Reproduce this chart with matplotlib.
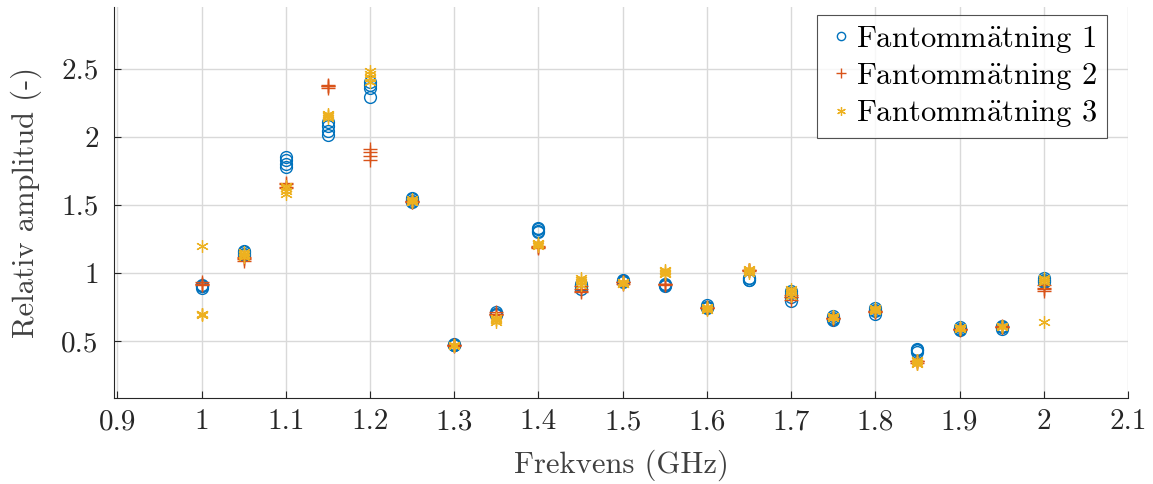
import matplotlib
matplotlib.use("Agg")
import matplotlib.pyplot as plt

plt.rcParams['font.family'] = ['cmr10', 'DejaVu Serif']
plt.rcParams['mathtext.fontset'] = 'cm'
plt.rcParams['axes.formatter.use_mathtext'] = True

freqs = [1.0, 1.05, 1.1, 1.15, 1.2, 1.25, 1.3, 1.35, 1.4, 1.45, 1.5,
         1.55, 1.6, 1.65, 1.7, 1.75, 1.8, 1.85, 1.9, 1.95, 2.0]

# repeated measurements per frequency
meas1 = [[0.89, 0.90, 0.91, 0.90], [1.13, 1.15, 1.16, 1.14], [1.78, 1.80, 1.83, 1.85],
         [2.01, 2.04, 2.08, 2.11], [2.29, 2.36, 2.38, 2.40], [1.52, 1.53, 1.55, 1.54],
         [0.47, 0.47, 0.48, 0.47], [0.69, 0.70, 0.71, 0.70], [1.30, 1.32, 1.33, 1.31],
         [0.88, 0.90, 0.92, 0.91], [0.93, 0.94, 0.95, 0.94], [0.90, 0.91, 0.92, 0.91],
         [0.74, 0.75, 0.76, 0.75], [0.95, 0.96, 0.96, 0.95], [0.79, 0.82, 0.85, 0.87],
         [0.65, 0.66, 0.67, 0.68], [0.70, 0.72, 0.73, 0.74], [0.42, 0.43, 0.44, 0.43],
         [0.58, 0.59, 0.60, 0.59], [0.59, 0.60, 0.61, 0.60], [0.93, 0.95, 0.96, 0.94]]
meas2 = [[0.92, 0.93, 0.91, 0.92], [1.10, 1.12, 1.11, 1.09], [1.63, 1.65, 1.66, 1.62],
         [2.36, 2.37, 2.38, 2.37], [1.83, 1.86, 1.89, 1.91], [1.52, 1.53, 1.53, 1.52],
         [0.47, 0.47, 0.46, 0.47], [0.70, 0.71, 0.69, 0.70], [1.18, 1.19, 1.20, 1.19],
         [0.86, 0.88, 0.90, 0.87], [0.93, 0.93, 0.92, 0.93], [0.92, 0.92, 0.91, 0.92],
         [0.74, 0.74, 0.75, 0.74], [1.02, 1.02, 1.01, 1.02], [0.80, 0.82, 0.84, 0.82],
         [0.67, 0.67, 0.66, 0.67], [0.71, 0.72, 0.71, 0.72], [0.35, 0.35, 0.34, 0.35],
         [0.59, 0.59, 0.58, 0.59], [0.60, 0.60, 0.60, 0.61], [0.87, 0.89, 0.91, 0.88]]
meas3 = [[0.70, 0.69, 0.70, 1.20], [1.12, 1.14, 1.13, 1.15], [1.58, 1.60, 1.62, 1.64],
         [2.14, 2.16, 2.17, 2.15], [2.40, 2.43, 2.46, 2.48], [1.52, 1.53, 1.54, 1.53],
         [0.46, 0.47, 0.47, 0.47], [0.64, 0.66, 0.67, 0.65], [1.20, 1.21, 1.22, 1.21],
         [0.93, 0.95, 0.96, 0.91], [0.92, 0.93, 0.93, 0.92], [0.99, 1.00, 1.01, 1.02],
         [0.73, 0.74, 0.75, 0.74], [1.00, 1.02, 1.03, 1.01], [0.83, 0.85, 0.87, 0.88],
         [0.67, 0.68, 0.67, 0.68], [0.72, 0.73, 0.74, 0.73], [0.33, 0.35, 0.36, 0.34],
         [0.59, 0.59, 0.60, 0.59], [0.61, 0.61, 0.60, 0.61], [0.93, 0.95, 0.96, 0.64]]

labels = [r'Fantomm$\ddot{\mathrm{a}}$tning 1',
          r'Fantomm$\ddot{\mathrm{a}}$tning 2',
          r'Fantomm$\ddot{\mathrm{a}}$tning 3']
colors = ['#0072BD', '#D95319', '#EDB120']


def flatten(meas):
	xs = []
	ys = []
	for f, vals in zip(freqs, meas):
		for v in vals:
			xs.append(f)
			ys.append(v)
	return xs, ys


fig = plt.figure(figsize=(11.53, 4.84), dpi=100)
ax = fig.add_axes([114 / 1153, 1 - 398 / 484, (1128 - 114) / 1153, (398 - 7) / 484])

xs, ys = flatten(meas1)
ax.plot(xs, ys, linestyle='none', marker='o', markersize=8.5, markerfacecolor='none',
		markeredgecolor=colors[0], markeredgewidth=1.0, label=labels[0])
xs, ys = flatten(meas2)
ax.plot(xs, ys, linestyle='none', marker='+', markersize=10, color=colors[1],
		markeredgewidth=1.0, label=labels[1])
xs, ys = flatten(meas3)
ax.plot(xs, ys, linestyle='none', marker=(6, 2, 0), markersize=9, color=colors[2],
		markeredgewidth=0.9, label=labels[2])

ax.set_xlim(0.896, 2.1)
ax.set_ylim(0.08, 2.954)
ax.set_xticks([0.9, 1.0, 1.1, 1.2, 1.3, 1.4, 1.5, 1.6, 1.7, 1.8, 1.9, 2.0, 2.1])
ax.set_xticklabels(['0.9', '1', '1.1', '1.2', '1.3', '1.4', '1.5', '1.6', '1.7', '1.8', '1.9', '2', '2.1'])
ax.set_yticks([0.5, 1.0, 1.5, 2.0, 2.5])
ax.set_yticklabels(['0.5', '1', '1.5', '2', '2.5'])

ax.grid(True, color='#d9d9d9', linewidth=1.0)
ax.set_axisbelow(True)
ax.spines['top'].set_visible(False)
ax.spines['right'].set_visible(False)
ax.spines['left'].set_color('#262626')
ax.spines['bottom'].set_color('#262626')
ax.tick_params(direction='in', length=5, width=0.8, colors='#262626', labelsize=21)
ax.tick_params(axis='y', pad=11)
ax.tick_params(axis='x', pad=8)

ax.set_xlabel('Frekvens (GHz)', fontsize=22, color='#404040', labelpad=10)
ax.set_ylabel('Relativ amplitud (-)', fontsize=22, color='#404040', labelpad=14)

leg = ax.legend(loc='upper right', fontsize=22, frameon=True, fancybox=False,
				edgecolor='#262626', handletextpad=0.0, handlelength=1.0,
				borderpad=0.3, labelspacing=0.2, borderaxespad=0.0,
				bbox_to_anchor=(0.979, 0.98), markerscale=0.7)
leg.get_frame().set_linewidth(0.8)

fig.savefig('out.png', dpi=100)
